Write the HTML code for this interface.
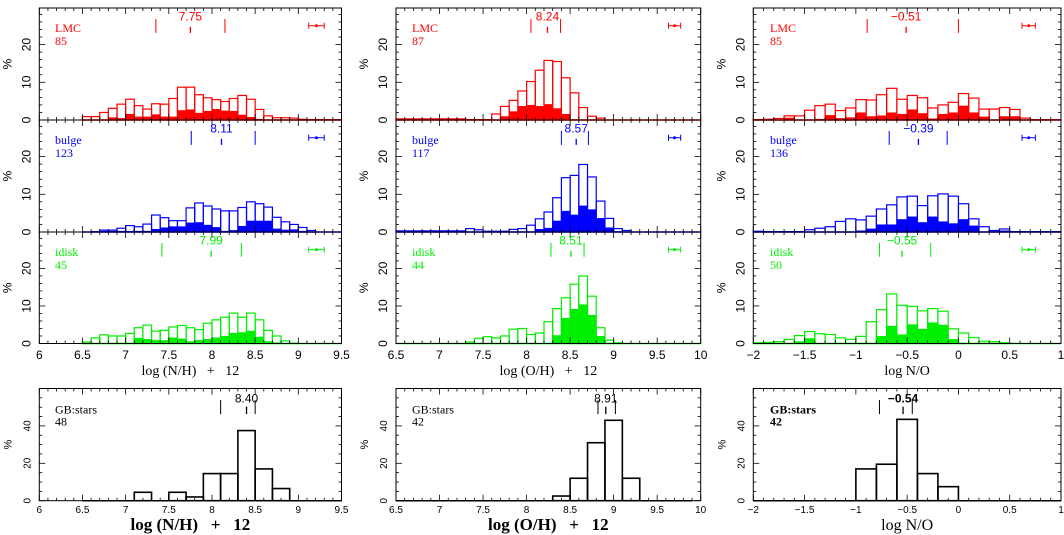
<!DOCTYPE html>
<html><head><meta charset="utf-8"><style>
html,body{margin:0;padding:0;background:#fff}
svg{display:block}
text{font-family:"Liberation Sans",sans-serif;white-space:pre}
</style></head><body>
<svg id="fig" width="1064" height="535" viewBox="0 0 1064 535" xmlns="http://www.w3.org/2000/svg" xml:space="preserve"></svg>
<script>
// ---- data ----
const nhLmcOpen=[0.9,0.9,2.0,3.1,4.2,5.5,3.8,2.9,4.3,4.2,5.7,8.7,8.7,6.7,5.9,5.4,4.9,5.7,6.5,5.5,2.8,1.1,0.6,0.6,0.5,0.2,0.1,0.1,0.1,0.1];
const nhLmcFill=[0,0,0,0.7,0.5,1.6,0.9,0.9,1.5,0.9,0.9,2.6,2.8,1.9,2.4,2.9,2.5,2.4,1.4,0.8,0.3,0,0,0,0,0,0,0,0,0];
const nhBulgeOpen=[0,0.1,0.5,0.5,1.0,1.7,1.4,2.1,4.5,3.8,3.0,3.0,6.4,7.7,6.9,6.1,5.6,5.6,6.5,8.0,7.5,6.6,3.9,2.7,2.0,1.2,0.4,0,0,0];
const nhBulgeFill=[0,0,0.3,0.3,0.3,0.3,0.3,0.3,0.8,1.2,1.5,1.5,2.5,2.6,1.9,1.3,0.3,0.5,1.6,3.0,3.0,3.0,0.9,0.6,0.7,0.3,0,0,0,0];
const nhDiskOpen=[0.4,1.5,2.3,2.0,2.0,2.7,4.2,4.9,3.3,3.5,4.4,4.8,4.2,3.7,5.4,6.3,7.0,8.1,7.0,8.1,6.3,3.5,2.0,0.7,0.1,0,0,0,0,0];
const nhDiskFill=[0,0,0,0,0,0,1.5,1.2,0.9,0.9,1.6,1.3,0.6,0.9,1.2,1.6,2.0,2.8,3.0,3.4,1.8,0.6,0.3,0,0,0,0,0,0,0];

const ohLmcOpen=[0.3,0.3,0.3,0.3,0.3,0.3,0.3,0.3,0.1,0.1,0.1,1.6,3.6,5.2,7.7,10.2,13.2,15.8,15.5,11.2,7.2,3.3,1.0,0.5,0,0,0,0,0,0,0,0,0,0,0];
const ohLmcFill=[0,0,0,0,0,0,0,0,0,0,0,0,1.0,2.3,3.7,4.0,3.7,4.2,3.1,1.6,0.2,0,0,0,0,0,0,0,0,0,0,0,0,0,0];
const ohBulgeOpen=[0.3,0.3,0.3,0.3,0.3,0.3,0.3,0.3,0.9,0.6,0.2,0.2,0.2,0.7,0.9,1.8,3.5,5.3,9.1,14.4,15,17.9,14.6,8.2,3.6,0.9,0.4,0,0,0,0,0,0,0,0];
const ohBulgeFill=[0,0,0,0,0,0,0,0,0,0,0,0,0,0,0,0,0.8,1.1,3.0,5.6,4.6,7.0,6.0,3.7,1.2,0.2,0,0,0,0,0,0,0,0,0];
const ohDiskOpen=[0,0,0,0,0,0,0,0,0.4,1.4,1.8,1.5,2.0,3.8,4.0,2.4,2.8,5.8,9.3,12.2,15.8,18.0,12.6,4.2,0.9,0.2,0,0,0,0,0,0,0,0,0];
const ohDiskFill=[0,0,0,0,0,0,0,0,0,0,0,0,0,0,0,0,0,0,2.2,6.8,9.2,10.4,7.6,2.0,0,0,0,0,0,0,0,0,0,0,0];

const noLmcOpen=[0.1,0.2,0.4,1.1,1.1,2.6,3.8,4.2,2.5,3.2,5.4,5.3,6.7,8.4,5.5,6.5,5.9,3.2,4.0,4.7,7.0,5.8,2.9,2.9,3.3,2.8,0.5,0.1,0.1,0.1];
const noLmcFill=[0,0,0,0.6,0,0,0.3,1.3,0.5,0.7,2.0,1.0,1.2,2.0,1.6,2.8,1.8,0.4,1.6,2.0,3.8,2.0,0.9,0.1,1.0,1.0,0,0,0,0];
const noBulgeOpen=[0.2,0.1,0.1,0.1,0.1,0.6,1.0,1.4,2.8,3.5,3.2,4.2,6.1,7.2,9.3,9.5,7.0,9.6,10.1,9.5,7.5,3.5,1.4,0.4,0.8,0.1,0.1,0.1,0.1,0.1];
const noBulgeFill=[0,0,0,0,0,0,0,0,0,0,0.4,0.9,2.0,2.0,3.4,4.1,2.6,4.1,2.8,2.3,3.4,1.7,0,0.2,0.4,0,0,0,0,0];
const noDiskOpen=[0.2,0.3,0.5,1.1,2.1,3.2,2.6,2.4,1.5,1.1,1.9,5.8,9.0,13.2,10.2,9.9,8.7,9.3,8.6,3.9,2.8,1.6,0.6,0.5,0.2,0,0,0,0,0];
const noDiskFill=[0,0,0,0,0.6,1.4,0,0,0,0,0,0,2.0,4.7,2.4,5.1,3.9,5.6,5.0,1.2,0,0,0,0,0,0,0,0,0,0];

const gbNh=[0,0,0,4.5,0,4.5,2,14.5,14.5,37.5,17,6.5,0,0,0];
const gbOh=[0,0,0,0,0,0,0,0,0,2.5,12,31,43,12,0,0,0];
const gbNo=[0,0,0,0,0,17,19.5,43.5,14.5,7.5,0,0,0,0,0];

// stats: [q1, median, q3]
const statsNh=[[7.35,7.75,8.15],[7.76,8.11,8.5],[7.42,7.99,8.34]];
const statsOh=[[8.05,8.24,8.39],[8.4,8.57,8.71],[8.28,8.51,8.66]];
const statsNo=[[-0.89,-0.51,0.0],[-0.675,-0.39,-0.11],[-0.77,-0.55,-0.27]];
const statsGb=[[8.1,8.40,8.5],[8.82,8.91,9.02],[-0.77,-0.54,-0.45]];
const medianText=[["7.75","8.11","7.99"],["8.24","8.57","8.51"],["\u22120.51","\u22120.39","\u22120.55"]];
const gbMedianText=["8.40","8.91","\u22120.54"];
const counts=[["85","123","45"],["87","117","44"],["85","136","50"]];
const gbCounts=["48","42","42"];
const groups=["LMC","bulge","idisk"];
const errBars=[[9.12,9.30],[9.63,9.77],[0.62,0.75]];
const xTickLabels=[["6","6.5","7","7.5","8","8.5","9","9.5"],["6.5","7","7.5","8","8.5","9","9.5","10"],["\u22122","\u22121.5","\u22121","\u22120.5","0","0.5","1"]];
const yTickTop=[0,10,20];
const yTickBottom=[0,20,40];
const xTitles=["log (N/H)   +   12","log (O/H)   +   12","log N/O"];

// ---- layout ----
const svg=document.getElementById('fig');
const NS='http://www.w3.org/2000/svg';
const COLS=[{x0:39.3,x1:341.5,xmin:6,xmax:9.5,start:6.5},{x0:396,x1:700.7,xmin:6.5,xmax:10,start:6.5},{x0:753.3,x1:1061,xmin:-2,xmax:1,start:-2}];
const ROWS=[{y0:8,y1:120},{y0:120,y1:232},{y0:232,y1:343.5}];
const TOPMAX=29.7;
const BOT={y0:388.5,y1:500.7,ymax:60};
const COLORS=["#ff0000","#0000ff","#00ee00"];
const openData=[[nhLmcOpen,nhBulgeOpen,nhDiskOpen],[ohLmcOpen,ohBulgeOpen,ohDiskOpen],[noLmcOpen,noBulgeOpen,noDiskOpen]];
const fillData=[[nhLmcFill,nhBulgeFill,nhDiskFill],[ohLmcFill,ohBulgeFill,ohDiskFill],[noLmcFill,noBulgeFill,noDiskFill]];
const statsAll=[statsNh,statsOh,statsNo];
const gbData=[gbNh,gbOh,gbNo];

function mk(tag,parent){const e=document.createElementNS(NS,tag);parent.appendChild(e);return e;}
function line(p,x1,y1,x2,y2,stroke,w){const l=mk('line',p);l.setAttribute('x1',x1);l.setAttribute('y1',y1);l.setAttribute('x2',x2);l.setAttribute('y2',y2);l.setAttribute('stroke',stroke);l.setAttribute('stroke-width',w);return l;}
function txt(p,x,y,s,size,fill,anchor,extra){const t=mk('text',p);t.setAttribute('x',x);t.setAttribute('y',y);t.setAttribute('font-size',size);t.setAttribute('fill',fill);t.setAttribute('text-anchor',anchor||'start');if(extra)t.setAttribute('style',extra);t.textContent=s;return t;}

function drawPanel(ci,px,py0,py1,ymax,bins,fill,step,color,stats,medTxt,grp,cnt,err,yTicks,yMinor,isBottom){
  const c=COLS[ci];
  const X=v=>c.x0+(v-c.xmin)/(c.xmax-c.xmin)*(c.x1-c.x0);
  const Y=v=>py1-v/ymax*(py1-py0);
  const g=mk('g',svg);
  
  
  if(fill){fill.forEach((v,i)=>{if(v<=0)return;const r=mk('rect',g);
    
    
    const a=X(c.start+i*step),b=X(c.start+(i+1)*step);r.setAttribute('x',a);r.setAttribute('width',b-a);r.setAttribute('y',Y(v));r.setAttribute('height',Y(0)-Y(v));r.setAttribute('fill',color);});}
  bins.forEach((v,i)=>{if(v<=0)return;const r=mk('rect',g);
    
    
    const a=X(c.start+i*step),b=X(c.start+(i+1)*step);r.setAttribute('x',a);r.setAttribute('width',b-a);r.setAttribute('y',Y(v));r.setAttribute('height',Y(0)-Y(v));r.setAttribute('fill','none');r.setAttribute('stroke',color);r.setAttribute('stroke-width',isBottom?1.6:1.2);});
  const bl=line(g,X(c.start),Y(0),X(c.start+bins.length*step),Y(0),color,1.5);
  
  
  const fr=mk('rect',g);
  
  
  fr.setAttribute('x',c.x0);fr.setAttribute('y',py0);fr.setAttribute('width',c.x1-c.x0);fr.setAttribute('height',py1-py0);fr.setAttribute('fill','none');fr.setAttribute('stroke','#000');fr.setAttribute('stroke-width',1);
  const n=Math.round((c.xmax-c.xmin)/0.1);
  for(let k=0;k<=n;k++){const v=c.xmin+k*0.1;const major=k%5===0;const L=major?6:3;const x=X(v);
    line(g,x,py1,x,py1-L,'#000',0.8);line(g,x,py0,x,py0+L,'#000',0.8);}
  for(let v=0;v<=ymax;v+=yMinor){const major=yTicks.includes(v);const L=major?6:3;const y=Y(v);
    line(g,c.x0,y,c.x0+L,y,'#000',0.8);line(g,c.x1,y,c.x1-L,y,'#000',0.8);}
  yTicks.forEach(v=>{const t=txt(g,0,0,String(v),isBottom?10:12,'#000','middle');
    
    
    t.setAttribute('transform','translate('+(c.x0-9)+','+Y(v)+') rotate(-90)');});
  const yl=txt(g,0,0,'%',isBottom?11:12,'#000','middle');
  
  
  yl.setAttribute('transform','translate('+(c.x0-28)+','+((py0+py1)/2)+') rotate(-90)');
  const mc=isBottom?'#000':color;
  const top=isBottom?53.8:26.8,bot=isBottom?46.3:23.1,mtop=isBottom?50.3:24.7;
  [stats[0],stats[2]].forEach(v=>{const l=line(g,X(v),Y(top),X(v),Y(bot),mc,1);
    
    });
  const ml=line(g,X(stats[1]),Y(mtop),X(stats[1]),Y(bot),mc,1.3);
  
  
  const mt=txt(g,X(stats[1]),Y(isBottom?52.6:26.4),medTxt,12,mc,'middle',(isBottom&&ci===2)?'font-weight:bold':'');
  
  
  const lx=ci===0?55:(ci===1?412:770);
  const gl=txt(g,lx,py0+(isBottom?25:24),grp,12,isBottom?'#000':color,'start','font-family:"Liberation Serif",serif;'+((isBottom&&ci===2)?'font-weight:bold':''));
  
  
  const cl=txt(g,lx,py0+37,cnt,12,isBottom?'#000':color,'start','font-family:"Liberation Serif",serif;'+((isBottom&&ci===2)?'font-weight:bold':''));
  
  
  if(err){const ey=Y(25);const e1=line(g,X(err[0]),ey,X(err[1]),ey,color,1);
    
    
    line(g,X(err[0]),ey-3,X(err[0]),ey+3,color,1);line(g,X(err[1]),ey-3,X(err[1]),ey+3,color,1);
    const d=mk('circle',g);d.setAttribute('cx',(X(err[0])+X(err[1]))/2);d.setAttribute('cy',ey);d.setAttribute('r',1.5);d.setAttribute('fill',color);}
  return X;
}

for(let ci=0;ci<3;ci++){
  let X;
  for(let ri=0;ri<3;ri++){
    X=drawPanel(ci,0,ROWS[ri].y0,ROWS[ri].y1,TOPMAX,openData[ci][ri],fillData[ci][ri],0.1,COLORS[ri],statsAll[ci][ri],medianText[ci][ri],groups[ri],counts[ci][ri],errBars[ci],yTickTop,2,false);
  }
  const step=0.5;
  xTickLabels[ci].forEach((s,k)=>{const v=COLS[ci].xmin+k*step;const t=txt(svg,X(v),359,s,12,'#000','middle');
    
    });
  const xt=txt(svg,(COLS[ci].x0+COLS[ci].x1)/2,375,xTitles[ci],14,'#000','middle','font-family:"Liberation Serif",serif;white-space:pre');
  
  
  const Xb=drawPanel(ci,0,BOT.y0,BOT.y1,BOT.ymax,gbData[ci],null,0.2,'#000',statsGb[ci],gbMedianText[ci],'GB:stars',gbCounts[ci],null,yTickBottom,5,true);
  xTickLabels[ci].forEach((s,k)=>{const v=COLS[ci].xmin+k*step;const t=txt(svg,Xb(v),513,s,10,'#000','middle');
    
    });
  const xb=txt(svg,(COLS[ci].x0+COLS[ci].x1)/2,530,xTitles[ci],ci===2?16:17,'#000','middle','font-family:"Liberation Serif",serif;white-space:pre;'+(ci<2?'font-weight:bold':''));
  
  
}
</script>
</body></html>
